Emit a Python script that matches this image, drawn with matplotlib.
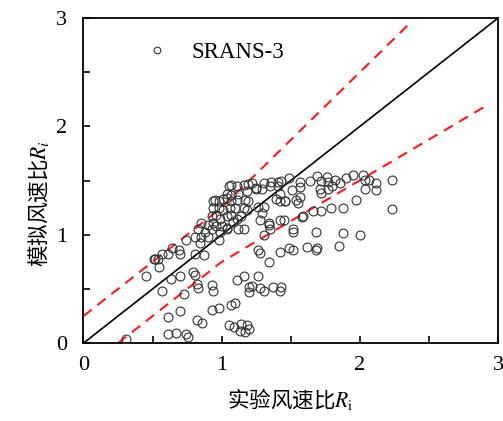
"""Nuage de points : rapport de vitesse simulé vs mesuré (SRANS-3)."""

import matplotlib
matplotlib.use("Agg")
import matplotlib.pyplot as plt

plt.rcParams["font.family"] = ["Liberation Serif", "Noto Sans CJK SC", "DejaVu Sans"]
plt.rcParams["mathtext.fontset"] = "stix"

exp_ri = [
    0.31, 0.61, 0.67, 0.74, 0.76, 0.61, 0.70, 0.82, 0.86, 0.93,
    0.98, 1.05, 1.09, 1.14, 1.18, 1.20, 1.13, 1.17, 1.07, 1.10,
    0.57, 0.73, 0.63, 0.70, 0.79, 0.81, 0.82, 0.83, 0.45, 0.55,
    0.52, 0.54, 0.61, 0.70, 0.69, 0.74, 0.81, 0.87, 0.93, 0.94,
    1.11, 1.16, 1.26, 1.20, 1.20, 1.22, 1.28, 1.31, 1.37, 1.42,
    1.43, 1.26, 1.28, 1.34, 1.42, 1.49, 1.52, 1.62, 1.68, 1.69,
    1.85, 1.52, 1.68, 1.88, 2.00, 1.42, 1.58, 1.59, 1.66, 1.72,
    1.79, 1.88, 1.97, 2.23, 1.28, 1.34, 1.35, 1.31, 1.36, 1.43,
    1.49, 1.57, 1.64, 1.69, 1.72, 1.76, 1.77, 1.82, 1.86, 1.90,
    1.95, 2.02, 2.04, 2.07, 2.12, 2.23, 1.29, 1.35, 1.41, 1.42,
    1.51, 1.57, 1.71, 1.72, 1.77, 1.80, 2.04, 2.12, 1.39, 1.42,
    1.46, 1.54, 1.55, 1.57, 1.05, 1.07, 1.11, 1.16, 1.19, 1.22,
    1.04, 1.07, 1.12, 1.18, 1.25, 0.94, 0.95, 0.98, 1.01, 1.04,
    1.07, 1.11, 1.17, 1.19, 0.94, 0.98, 1.01, 1.06, 1.10, 1.16,
    1.18, 0.93, 0.96, 0.99, 1.04, 1.07, 1.11, 1.14, 0.85, 0.90,
    0.94, 0.96, 1.00, 1.04, 1.08, 0.83, 0.88, 0.93, 0.99, 1.04,
    1.12, 1.16, 0.81, 0.85, 0.90, 0.98, 0.84, 0.64, 0.57, 0.51,
    1.26, 1.31, 1.29, 1.31, 1.45, 1.46, 1.52, 1.25, 1.34, 1.41,
]
sim_ri = [
    0.04, 0.08, 0.09, 0.08, 0.06, 0.24, 0.30, 0.21, 0.19, 0.31,
    0.32, 0.17, 0.15, 0.18, 0.17, 0.13, 0.11, 0.10, 0.35, 0.37,
    0.48, 0.45, 0.59, 0.62, 0.66, 0.63, 0.55, 0.51, 0.62, 0.70,
    0.78, 0.78, 0.82, 0.82, 0.86, 0.95, 0.82, 0.81, 0.54, 0.48,
    0.58, 0.62, 0.62, 0.52, 0.47, 0.53, 0.51, 0.48, 0.52, 0.48,
    0.52, 0.86, 0.83, 0.75, 0.84, 0.88, 0.86, 0.89, 0.86, 0.88,
    0.90, 1.03, 1.03, 1.02, 1.00, 1.14, 1.16, 1.17, 1.22, 1.22,
    1.25, 1.25, 1.32, 1.24, 1.14, 1.11, 1.05, 1.48, 1.49, 1.50,
    1.52, 1.49, 1.50, 1.54, 1.50, 1.53, 1.49, 1.51, 1.48, 1.52,
    1.55, 1.55, 1.51, 1.51, 1.48, 1.51, 1.42, 1.45, 1.45, 1.38,
    1.41, 1.44, 1.42, 1.39, 1.42, 1.45, 1.42, 1.41, 1.33, 1.31,
    1.31, 1.32, 1.29, 1.35, 1.45, 1.46, 1.45, 1.46, 1.47, 1.48,
    1.38, 1.37, 1.38, 1.40, 1.42, 1.31, 1.32, 1.31, 1.33, 1.34,
    1.31, 1.32, 1.32, 1.31, 1.25, 1.25, 1.23, 1.25, 1.25, 1.25,
    1.23, 1.17, 1.18, 1.15, 1.17, 1.18, 1.15, 1.17, 1.11, 1.09,
    1.11, 1.08, 1.08, 1.06, 1.12, 1.05, 1.03, 1.05, 1.03, 1.05,
    1.05, 1.05, 0.98, 0.98, 0.98, 0.95, 0.92, 0.88, 0.82, 0.78,
    1.26, 1.26, 1.20, 1.00, 1.14, 1.31, 1.05, 1.43, 1.09, 1.49,
]

# droite y = x et bornes (+/-0.25 ou +/-25 %)
ref_x = [0, 3]
upper_x = [0, 1, 2.36]
upper_y = [0.25, 1.25, 2.95]
lower_x = [0.25, 1, 2.9]
lower_y = [0, 0.75, 2.18]

fig = plt.figure(figsize=(5.03, 4.21), dpi=100)
ax = fig.add_axes([0.166, 0.185, 0.824, 0.772])

ax.plot(ref_x, ref_x, color="black", linewidth=1.2, zorder=2)
ax.plot(upper_x, upper_y, color="#ff1a1a", linewidth=1.5,
        dashes=(5, 3.5), zorder=2)
ax.plot(lower_x, lower_y, color="#ff1a1a", linewidth=1.5,
        dashes=(5, 3.5), zorder=2)
ax.plot(exp_ri, sim_ri, linestyle="none", marker="o", markersize=6.4,
        markerfacecolor="none", markeredgecolor="#333333",
        markeredgewidth=0.8, label="SRANS-3", zorder=3)

ax.set_xlim(0, 3)
ax.set_ylim(0, 3)
ax.set_xticks([0, 1, 2, 3])
ax.set_yticks([0, 1, 2, 3])
ax.set_xticks([0.5, 1.5, 2.5], minor=True)
ax.set_yticks([0.5, 1.5, 2.5], minor=True)
ax.tick_params(which="both", direction="in", length=5, width=1.2,
               labelsize=16, top=False, right=False)
ax.tick_params(axis="x", pad=9)
ax.tick_params(axis="y", pad=12)
for sp in ax.spines.values():
    sp.set_linewidth(1.3)

# le texte hors math d'une chaîne mathtext prend la police du label
ax.set_xlabel("实验风速比$R_\\mathrm{i}$", fontsize=15.5, labelpad=8,
              fontfamily="Noto Sans CJK SC")
ax.set_ylabel("模拟风速比$R_i$", fontsize=15.5,
              fontfamily="Noto Sans CJK SC")
ax.yaxis.set_label_coords(-0.078, 0.43)

ax.legend(loc="upper left", bbox_to_anchor=(0.1, 0.99), frameon=False,
          fontsize=16.5, markerscale=0.75, handlelength=1.0, handletextpad=1.0)

fig.savefig("out.png", dpi=100)
plt.close(fig)
